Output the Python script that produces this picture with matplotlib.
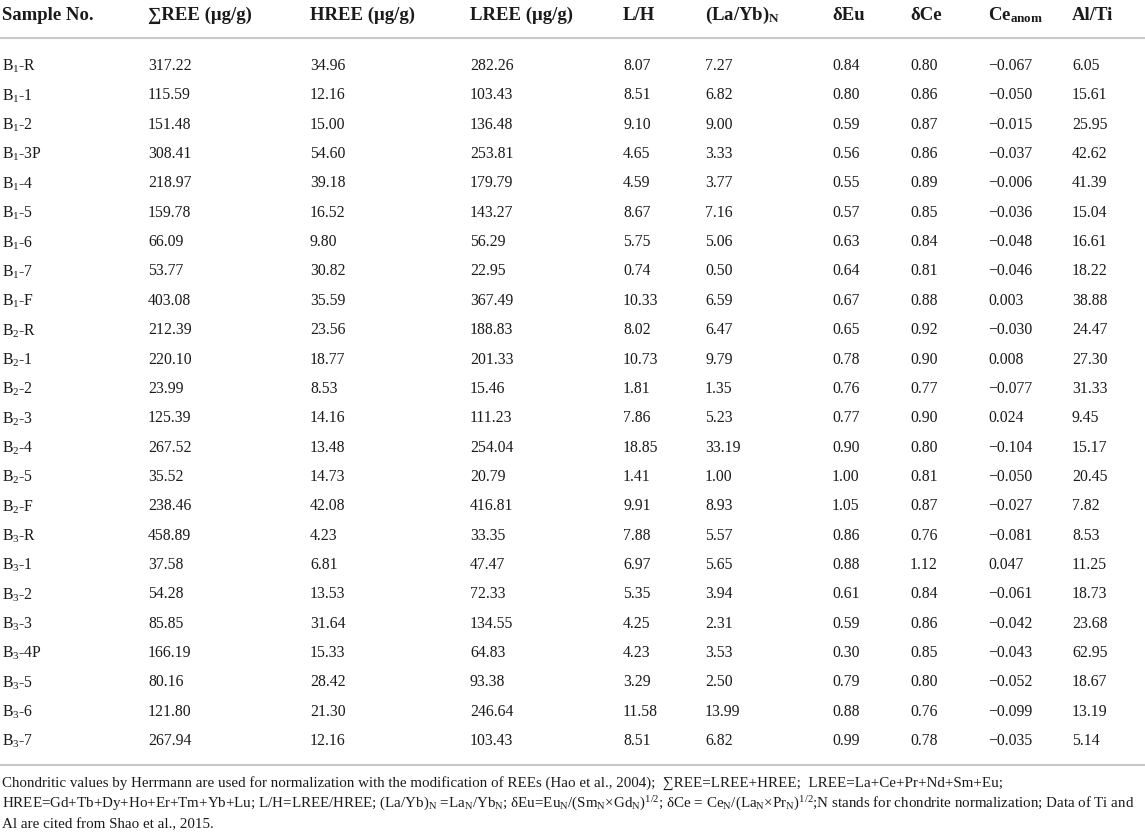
import matplotlib
matplotlib.use("Agg")
from matplotlib import pyplot as plt

# table data (Sample No. + 9 value columns)
samples = ["B1-R", "B1-1", "B1-2", "B1-3P", "B1-4", "B1-5", "B1-6", "B1-7", "B1-F",
           "B2-R", "B2-1", "B2-2", "B2-3", "B2-4", "B2-5", "B2-F",
           "B3-R", "B3-1", "B3-2", "B3-3", "B3-4P", "B3-5", "B3-6", "B3-7"]
ree_total = [317.22, 115.59, 151.48, 308.41, 218.97, 159.78, 66.09, 53.77, 403.08,
             212.39, 220.10, 23.99, 125.39, 267.52, 35.52, 238.46,
             458.89, 37.58, 54.28, 85.85, 166.19, 80.16, 121.80, 267.94]
hree = [34.96, 12.16, 15.00, 54.60, 39.18, 16.52, 9.80, 30.82, 35.59,
        23.56, 18.77, 8.53, 14.16, 13.48, 14.73, 42.08,
        4.23, 6.81, 13.53, 31.64, 15.33, 28.42, 21.30, 12.16]
lree = [282.26, 103.43, 136.48, 253.81, 179.79, 143.27, 56.29, 22.95, 367.49,
        188.83, 201.33, 15.46, 111.23, 254.04, 20.79, 416.81,
        33.35, 47.47, 72.33, 134.55, 64.83, 93.38, 246.64, 103.43]
l_h = [8.07, 8.51, 9.10, 4.65, 4.59, 8.67, 5.75, 0.74, 10.33,
       8.02, 10.73, 1.81, 7.86, 18.85, 1.41, 9.91,
       7.88, 6.97, 5.35, 4.25, 4.23, 3.29, 11.58, 8.51]
la_yb = [7.27, 6.82, 9.00, 3.33, 3.77, 7.16, 5.06, 0.50, 6.59,
         6.47, 9.79, 1.35, 5.23, 33.19, 1.00, 8.93,
         5.57, 5.65, 3.94, 2.31, 3.53, 2.50, 13.99, 6.82]
d_eu = [0.84, 0.80, 0.59, 0.56, 0.55, 0.57, 0.63, 0.64, 0.67,
        0.65, 0.78, 0.76, 0.77, 0.90, 1.00, 1.05,
        0.86, 0.88, 0.61, 0.59, 0.30, 0.79, 0.88, 0.99]
d_ce = [0.80, 0.86, 0.87, 0.86, 0.89, 0.85, 0.84, 0.81, 0.88,
        0.92, 0.90, 0.77, 0.90, 0.80, 0.81, 0.87,
        0.76, 1.12, 0.84, 0.86, 0.85, 0.80, 0.76, 0.78]
ce_anom = [-0.067, -0.050, -0.015, -0.037, -0.006, -0.036, -0.048, -0.046, 0.003,
           -0.030, 0.008, -0.077, 0.024, -0.104, -0.050, -0.027,
           -0.081, 0.047, -0.061, -0.042, -0.043, -0.052, -0.099, -0.035]
al_ti = [6.05, 15.61, 25.95, 42.62, 41.39, 15.04, 16.61, 18.22, 38.88,
         24.47, 27.30, 31.33, 9.45, 15.17, 20.45, 7.82,
         8.53, 11.25, 18.73, 23.68, 62.95, 18.67, 13.19, 5.14]

headers = ["Sample No.", "\u2211REE (\u03bcg/g)", "HREE (\u03bcg/g)", "LREE (\u03bcg/g)", "L/H",
           r"(La/Yb)$_\mathdefault{N}$", "\u03b4Eu", "\u03b4Ce", r"Ce$_\mathdefault{anom}$", "Al/Ti"]
columns = [ree_total, hree, lree, l_h, la_yb, d_eu, d_ce, ce_anom, al_ti]
decimals = [2, 2, 2, 2, 2, 2, 2, 3, 2]

footnote = [
    "Chondritic values by Herrmann are used for normalization with the modification of REEs "
    "(Hao et al., 2004);  \u2211REE=LREE+HREE;  LREE=La+Ce+Pr+Nd+Sm+Eu;",
    r"HREE=Gd+Tb+Dy+Ho+Er+Tm+Yb+Lu; L/H=LREE/HREE; (La/Yb)$_\mathdefault{N}$ =La$_\mathdefault{N}$/Yb$_\mathdefault{N}$; "
    r"δEu=Eu$_\mathdefault{N}$/(Sm$_\mathdefault{N}$×Gd$_\mathdefault{N}$)$^\mathdefault{1/2}$; "
    r"δCe = Ce$_\mathdefault{N}$/(La$_\mathdefault{N}$×Pr$_\mathdefault{N}$)$^\mathdefault{1/2}$;"
    "N stands for chondrite normalization; Data of Ti and",
    "Al are cited from Shao et al., 2015.",
]

plt.rcParams['font.family'] = ['Liberation Serif', 'DejaVu Serif']
plt.rcParams['mathtext.fontset'] = 'custom'
plt.rcParams['mathtext.rm'] = 'Liberation Serif'
plt.rcParams['mathtext.it'] = 'Liberation Serif:italic'
plt.rcParams['mathtext.bf'] = 'Liberation Serif:bold'

W, H = 1145, 832
fig = plt.figure(figsize=(W / 100, H / 100), dpi=100)
ax = fig.add_axes([0, 0, 1, 1])
ax.set_xlim(0, W)
ax.set_ylim(H, 0)
ax.axis('off')

col_x = [2, 148, 310, 470, 623, 705, 832, 910, 988, 1072]
text_color = '#1a1a1a'
line_color = '#c8c8c8'

for x, h in zip(col_x, headers):
    ax.text(x, 20, h, fontsize=13.5, fontweight='bold', color=text_color,
            ha='left', va='baseline')

ax.plot([0, W], [38, 38], color=line_color, lw=1.5, solid_capstyle='butt')

row_h = 29.35
for i, s in enumerate(samples):
    y = 70 + i * row_h
    name, rest = s[:2], s[2:]
    # mathtext label sits a bit high with baseline alignment, nudge it down
    ax.text(col_x[0], y + 1, name[0] + r"$_\mathdefault{" + name[1] + "}$" + rest,
            fontsize=11.3, color=text_color, ha='left', va='baseline')
    for x, vals, d in zip(col_x[1:], columns, decimals):
        txt = f"{vals[i]:.{d}f}".replace('-', '\u2212')
        ax.text(x, y, txt, fontsize=11.3, color=text_color, ha='left', va='baseline')

ax.plot([0, W], [765, 765], color=line_color, lw=1.5, solid_capstyle='butt')

for j, line in enumerate(footnote):
    ax.text(2, 787 + j * 20.7, line, fontsize=10.8, color=text_color,
            ha='left', va='baseline')

fig.savefig("out.png", dpi=100)
plt.close(fig)
